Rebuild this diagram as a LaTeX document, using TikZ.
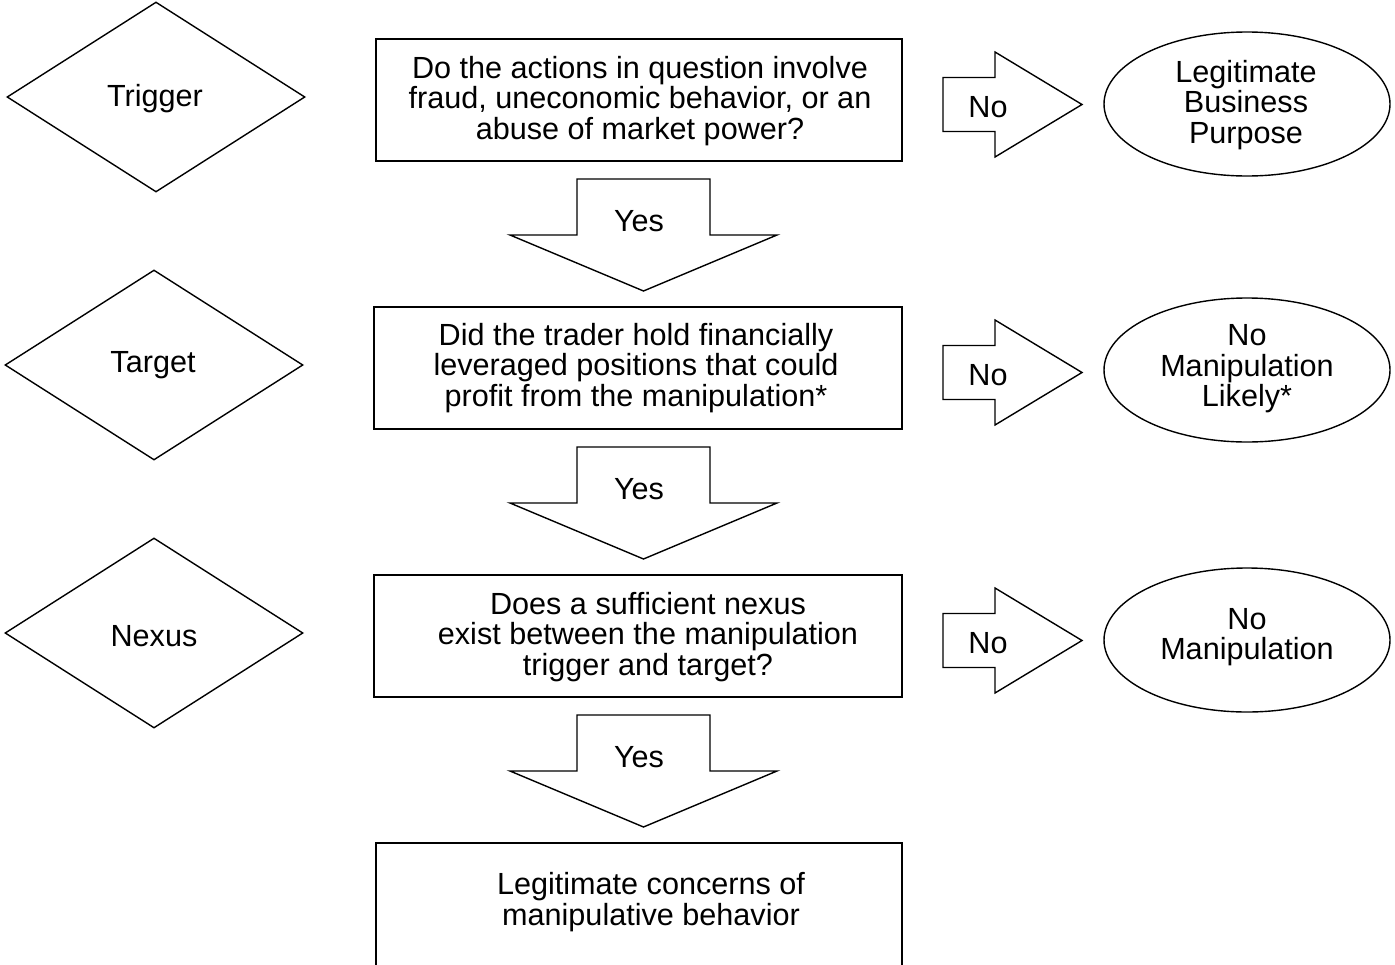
\documentclass[tikz,border=0pt]{standalone}
\usepackage{fontspec}
\setmainfont{Liberation Sans}
\usetikzlibrary{shapes.geometric}
\begin{document}
\begin{tikzpicture}[x=1pt,y=-1pt,line width=1.4pt,
  every node/.style={font=\fontsize{30.6}{30.5}\selectfont},
  txt/.style={inner sep=0pt,align=center},
  decision/.style={draw,diamond,inner sep=0pt,minimum width=298,minimum height=190,shape aspect=1.57},
  qbox/.style={draw,rectangle,inner sep=0pt},
  outcome/.style={draw,ellipse,inner sep=0pt,minimum width=286,minimum height=144},
  pics/downblock/.style={code={
    \draw (-66.5,0) -- (66.5,0) -- (66.5,56) -- (133.5,56) -- (0,112)
          -- (-133.5,56) -- (-66.5,56) -- cycle;}},
  pics/rightblock/.style={code={
    \draw (0,-27) -- (52,-27) -- (52,-52.5) -- (139,0) -- (52,52.5)
          -- (52,27) -- (0,27) -- cycle;}}
]
\clip (0,0) rectangle (1395,964);
\fill[white] (0,0) rectangle (1395,964);

% stage shapes (drawn empty, labelled below)
\node[decision] (trigger) at (156,97) {};
\node[decision] (target)  at (154,365) {};
\node[decision] (nexus)   at (154,633) {};
\node[txt] (lt1) at (155,99) {Trigger};
\node[txt] (lt2) at (153,365) {Target};
\node[txt] (lt3) at (154,636) {Nexus};

% question boxes
\node[qbox,minimum width=526,minimum height=122] (q1) at (639,100) {};
\node[qbox,minimum width=528,minimum height=122] (q2) at (638,368) {};
\node[qbox,minimum width=528,minimum height=122] (q3) at (638,636) {};
\node[qbox,minimum width=526,minimum height=160] (q4) at (639,923) {};

\node[txt] (t1) at (640,101) {Do the actions in question involve\\fraud, uneconomic behavior, or an\\abuse of market power?};
\node[txt] (t2) at (636,368) {Did the trader hold financially\\leveraged positions that could\\profit from the manipulation*};
\node[txt] (t3) at (648,637) {Does a sufficient nexus\\exist between the manipulation\\trigger and target?};
\node[txt] (t4) at (651,902) {Legitimate concerns of\\manipulative behavior};

% "Yes" block arrows
\pic at (643.5,179) {downblock};
\pic at (643.5,447) {downblock};
\pic at (643.5,715) {downblock};
\node[txt] (y1) at (639,221) {Yes};
\node[txt] (y2) at (639,489) {Yes};
\node[txt] (y3) at (639,757) {Yes};

% "No" block arrows
\pic at (943,104.5) {rightblock};
\pic at (943,372.5) {rightblock};
\pic at (943,640.5) {rightblock};
\node[txt] (n1) at (988,107) {No};
\node[txt] (n2) at (988,375) {No};
\node[txt] (n3) at (988,643) {No};

% outcomes
\node[outcome] (o1) at (1247,104) {};
\node[outcome] (o2) at (1247,370) {};
\node[outcome] (o3) at (1247,640) {};
\node[txt] (ot1) at (1246,105) {Legitimate\\Business\\Purpose};
\node[txt] (ot2) at (1247,369) {No\\Manipulation\\Likely*};
\node[txt] (ot3) at (1247,637) {No\\Manipulation};
\end{tikzpicture}
\end{document}
